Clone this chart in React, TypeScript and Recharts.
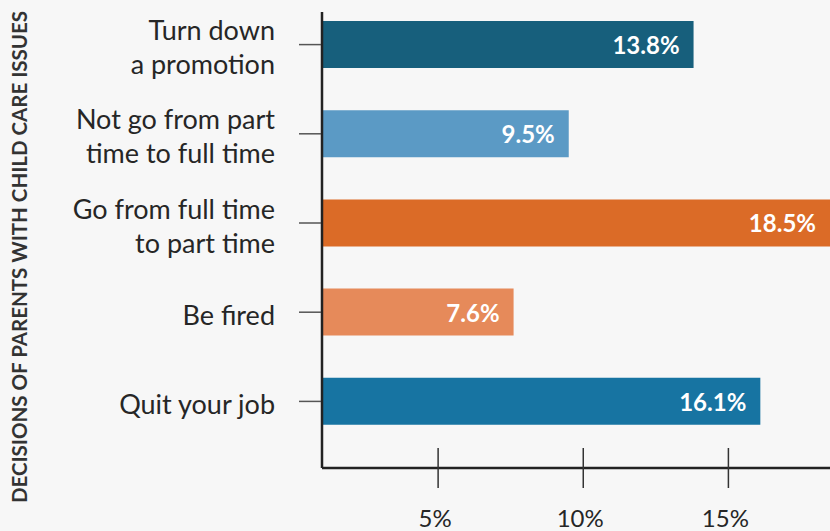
import { BarChart, Bar, XAxis, YAxis, Cell, LabelList } from "recharts";

// decisions, read top to bottom
const labels = [
  "Turn down\na promotion",
  "Not go from part\ntime to full time",
  "Go from full time\nto part time",
  "Be fired",
  "Quit your job",
];
const values = [13.8, 9.5, 18.5, 7.6, 16.1];
const colors = ["#175f7c", "#5b9ac5", "#db6b27", "#e68a5a", "#1774a2"];
const xTicks = [5, 10, 15];

const FONT = "Lato, 'Open Sans', sans-serif";
const INK = "#262626";

const data = labels.map((name, i) => ({ name, value: values[i], color: colors[i] }));

const CategoryTick = (props: any) => {
  const { x, y, payload } = props;
  const lines = String(payload.value).split("\n");
  const step = 34;
  const start = -((lines.length - 1) * step) / 2 + (lines.length > 1 ? 2 : 2);
  return (
    <g>
      <line x1={x - 23} x2={x - 1} y1={y} y2={y} stroke="#555" strokeWidth={1.5} />
      {lines.map((l, i) => (
        <text
          key={i}
          x={x - 47}
          y={y + start + i * step}
          textAnchor="end"
          dominantBaseline="central"
          fontFamily={FONT}
          fontSize={27}
          fill={INK}
        >
          {l}
        </text>
      ))}
    </g>
  );
};

const ValueTick = (props: any) => {
  const { x, y, payload } = props;
  return (
    <g>
      <line x1={x} x2={x} y1={y - 20} y2={y + 20} stroke="#333" strokeWidth={1.5} />
      <text
        x={x - 3}
        y={y + 49}
        textAnchor="middle"
        dominantBaseline="central"
        fontFamily={FONT}
        fontSize={24}
        fill={INK}
      >
        {payload.value}%
      </text>
    </g>
  );
};

const BarValue = (props: any) => {
  const { x, y, width, height, value } = props;
  return (
    <text
      x={x + width - 14}
      y={y + height / 2}
      textAnchor="end"
      dominantBaseline="central"
      fontFamily={FONT}
      fontWeight={700}
      fontSize={24}
      fill="#fff"
    >
      {value}%
    </text>
  );
};

export default function App() {
  return (
    <div
      style={{
        position: "absolute",
        left: 0,
        top: 0,
        width: 830,
        height: 531,
        background: "#f7f7f7",
        overflow: "hidden",
      }}
    >
      <BarChart
        width={830}
        height={531}
        data={data}
        layout="vertical"
        margin={{ top: 12, right: 0, bottom: 0, left: 0 }}
      >
        <XAxis
          type="number"
          domain={[1, 18.5]}
          ticks={xTicks}
          height={63}
          axisLine={{ stroke: "#222", strokeWidth: 2.5 }}
          tickLine={false}
          tickSize={0}
          tickMargin={0}
          tick={<ValueTick />}
        />
        <YAxis
          type="category"
          dataKey="name"
          width={322}
          padding={{ top: -12, bottom: 22 }}
          axisLine={{ stroke: "#222", strokeWidth: 2.5 }}
          tickLine={false}
          tickSize={0}
          tickMargin={0}
          tick={<CategoryTick />}
          interval={0}
        />
        <Bar dataKey="value" barSize={47} isAnimationActive={false}>
          {data.map((d, i) => (
            <Cell key={i} fill={d.color} />
          ))}
          <LabelList dataKey="value" content={<BarValue />} />
        </Bar>
      </BarChart>
      <svg
        width={40}
        height={531}
        style={{ position: "absolute", left: 0, top: 0, pointerEvents: "none" }}
      >
        <text
          transform="translate(19 257) rotate(-90)"
          textAnchor="middle"
          dominantBaseline="central"
          fontFamily={FONT}
          fontWeight={700}
          fontSize={20.5}
          fill="#333"
        >
          DECISIONS OF PARENTS WITH CHILD CARE ISSUES
        </text>
      </svg>
    </div>
  );
}
